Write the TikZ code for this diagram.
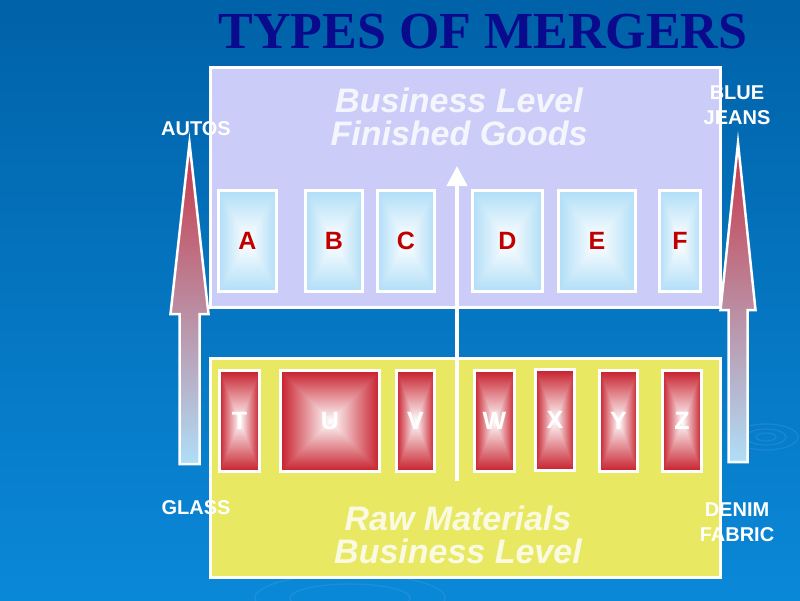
\documentclass[tikz,border=0pt]{standalone}
\usepackage{fontspec}
\setmainfont{Liberation Serif}
\setsansfont{Liberation Sans}
\usepackage{xcolor}
\usetikzlibrary{arrows.meta,positioning}
\definecolor{fundoTopo}{HTML}{0062A8}
\definecolor{fundoBase}{HTML}{0A88D8}
\definecolor{lavanda}{HTML}{CCCCF8}
\definecolor{amarelo}{HTML}{E8E862}
\definecolor{azulClaro}{HTML}{B0DEF8}
\definecolor{vermelhoLetra}{HTML}{C00000}
\definecolor{marinho}{HTML}{0A0A8C}
\definecolor{rosaSeta}{HTML}{C83444}
\definecolor{malvaSeta}{HTML}{C4A4C4}
% degrade retangular a partir do centro
\pgfdeclarefunctionalshading{centroAzul}{\pgfpoint{-50bp}{-50bp}}{\pgfpoint{50bp}{50bp}}{}{
    abs exch abs 2 copy lt {exch} if pop 25 div dup 1 gt {pop 1} if
    dup 0.31 mul 1 exch sub exch
    dup 0.13 mul 1 exch sub exch
    0.03 mul 1 exch sub
}
\pgfdeclarefunctionalshading{centroVermelho}{\pgfpoint{-50bp}{-50bp}}{\pgfpoint{50bp}{50bp}}{}{
    abs exch abs 2 copy lt {exch} if pop 25 div dup 1 gt {pop 1} if
    dup 0.22 mul 1 exch sub exch
    dup 0.88 mul 1 exch sub exch
    0.83 mul 1 exch sub
}
\tikzset{
    painel/.style={
        rectangle,
        draw=white,
        line width=3pt,
        anchor=north west,
        inner sep=0pt
    },
    produto/.style={
        rectangle,
        draw=white,
        line width=3pt,
        inner sep=0pt,
        minimum height=101pt,
        shading=centroAzul,
        text=vermelhoLetra,
        font=\sffamily\bfseries\fontsize{25}{25}\selectfont
    },
    materia/.style={produto, shading=centroVermelho, text=white},
    nivel/.style={
        align=center,
        text=white,
        text opacity=0.82,
        font=\sffamily\bfseries\itshape\fontsize{34}{33}\selectfont
    },
    rotulo/.style={align=center, text=white, font=\sffamily\bfseries\fontsize{20}{25}\selectfont},
    setaLateral/.style={draw=white, line width=2.5pt, top color=rosaSeta, middle color=malvaSeta, bottom color=azulClaro},
    setaCentral/.style={draw=white, line width=4pt, -{Triangle[width=20pt, length=20pt]}},
    onda/.style={draw=white, opacity=0.08, line width=1.2pt}
}
\begin{document}
\begin{tikzpicture}[x=1pt, y=-1pt]
    \useasboundingbox (0,0) rectangle (800,600);
    \shade[top color=fundoTopo, bottom color=fundoBase] (0,0) rectangle (800,600);
    % ondas do fundo
    \draw[onda] (766,437) ellipse (10 and 4) (766,437) ellipse (20 and 8) (766,437) ellipse (32 and 13);
    \draw[onda] (350,598) ellipse (60 and 14) (350,598) ellipse (95 and 24);

    \node[font=\rmfamily\bfseries\fontsize{52}{52}\selectfont, text=marinho] (titulo) at (483,32) {TYPES OF MERGERS};

    % paineis
    \node[painel, fill=lavanda, minimum width=510pt, minimum height=240pt] (acabados) at (208.5,65.5) {};
    \node[painel, fill=amarelo, minimum width=510pt, minimum height=219pt] (brutos) at (208.5,356.5) {};

    \node[nivel] (nivelTopo) at (459,117) {Business Level\\Finished Goods};
    \node[nivel] (nivelBase) at (458,535) {Raw Materials\\Business Level};

    % produtos acabados
    \node[produto, minimum width=58pt] (A) at (247.5,241) {A};
    \node[produto, minimum width=57pt] (B) at (334,241) {B};
    \node[produto, minimum width=57pt] (C) at (406,241) {C};
    \node[produto, minimum width=70pt] (D) at (507.5,241) {D};
    \node[produto, minimum width=77pt] (E) at (597,241) {E};
    \node[produto, minimum width=41pt] (F) at (680,241) {F};

    % materias-primas
    \node[materia, minimum width=40pt] (T) at (239.5,421) {T};
    \node[materia, minimum width=99pt] (U) at (330,421) {U};
    \node[materia, minimum width=38pt] (V) at (415.5,421) {V};
    \node[materia, minimum width=40pt] (W) at (494.5,421) {W};
    \node[materia, minimum width=39pt] (X) at (555,420) {X};
    \node[materia, minimum width=38pt] (Y) at (618.5,421) {Y};
    \node[materia, minimum width=39pt] (Z) at (682,421) {Z};

    % seta central
    \coordinate (baseCentral) at (457,481);
    \coordinate (topoCentral) at (457,166);
    \draw[setaCentral] (baseCentral) -- (topoCentral);

    % setas laterais
    \path[setaLateral] (179.5,464) -- (179.5,314) -- (170.5,314) -- (189.5,143)
        -- (208.5,314) -- (199.5,314) -- (199.5,464) -- cycle;
    \path[setaLateral] (728.5,462) -- (728.5,310) -- (720.5,310) -- (738,143)
        -- (755.5,310) -- (747.5,310) -- (747.5,462) -- cycle;

    \node[rotulo] (autos) at (196,129) {AUTOS};
    \node[rotulo] (vidro) at (196,508) {GLASS};
    \node[rotulo] (jeans) at (737,105) {BLUE\\JEANS};
    \node[rotulo] (denim) at (737,522) {DENIM\\FABRIC};
\end{tikzpicture}
\end{document}
